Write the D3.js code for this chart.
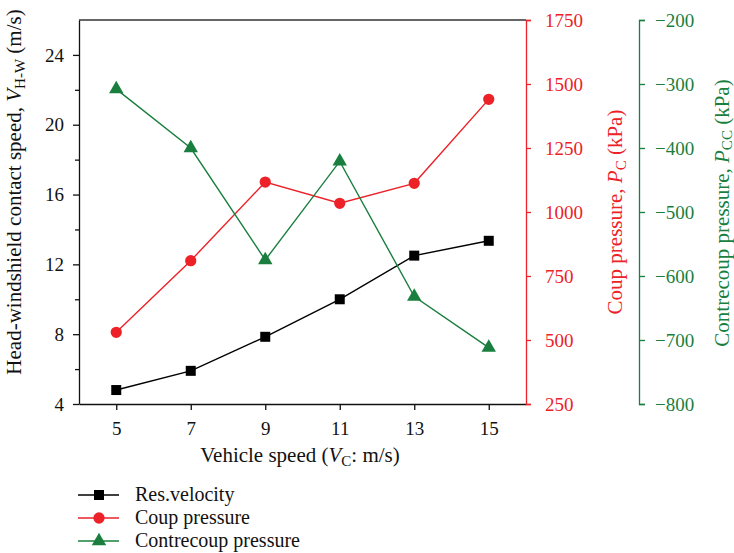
<!DOCTYPE html>
<html>
<head>
<meta charset="utf-8">
<script src="https://cdn.jsdelivr.net/npm/d3@7"></script>
<style>
  body { margin: 0; background: #fff; }
  svg { font-family: "Liberation Serif", "DejaVu Serif", serif; }
  .axis text { font-family: "Liberation Serif", serif; font-size: 19px; }
</style>
</head>
<body>
<svg></svg>
<script>
// DATA
let speeds = [5, 7, 9, 11, 13, 15];
let resVelocity = [4.8, 5.9, 7.85, 10.0, 12.5, 13.35];
let coupPressure = [530, 810, 1117, 1034, 1112, 1440];
let contrecoupPressure = [-308, -400, -575, -421, -632, -712];

let leftTicks = [4, 8, 12, 16, 20, 24];
let leftMinor = [6, 10, 14, 18, 22];
let coupTicks = [250, 500, 750, 1000, 1250, 1500, 1750];
let ccTicks = [-800, -700, -600, -500, -400, -300, -200];

let seriesNames = ["Res.velocity", "Coup pressure", "Contrecoup pressure"];

// PAGE SETUP
let red = "#ec2228", green = "#1a7f3e";
let margin = {top: 20, left: 79, right: 208, bottom: 149};
let width = 734 - margin.left - margin.right;
let height = 553 - margin.top - margin.bottom;

let svg = d3.select("svg").attr("width", 734).attr("height", 553)
  .append("g")
  .attr("transform", `translate(${margin.left},${margin.top})`);

// scales
let x = d3.scaleLinear().domain([4, 16]).range([0, width]);
let yLeft = d3.scaleLinear().domain([4, 26]).range([height, 0]);
let yCoup = d3.scaleLinear().domain([250, 1750]).range([height, 0]);
let yCC = d3.scaleLinear().domain([-800, -200]).range([height, 0]);

// top frame line
svg.append("line").attr("x1", 0).attr("x2", width).attr("y1", 0).attr("y2", 0)
  .attr("stroke", "#333").attr("stroke-width", 1.3);

// axes
let xAxis = svg.append("g").attr("class", "axis")
  .attr("transform", `translate(0,${height})`)
  .call(d3.axisBottom(x).tickValues(speeds).tickSize(6).tickPadding(12).tickSizeOuter(0));

let leftAxis = svg.append("g").attr("class", "axis")
  .call(d3.axisLeft(yLeft).tickValues(leftTicks).tickSize(6).tickPadding(9).tickSizeOuter(0));
svg.append("g")
  .call(d3.axisLeft(yLeft).tickValues(leftMinor).tickSize(4).tickFormat("").tickSizeOuter(0))
  .call(g => g.selectAll("line").attr("stroke", "#111").attr("stroke-width", 1.3))
  .select(".domain").remove();

let coupAxis = svg.append("g").attr("class", "axis")
  .attr("transform", `translate(${width},0)`)
  .call(d3.axisRight(yCoup).tickValues(coupTicks).tickFormat(d3.format("d"))
    .tickSize(5).tickPadding(14).tickSizeOuter(5));

let ccAxis = svg.append("g").attr("class", "axis")
  .attr("transform", `translate(${width + 113},0)`)
  .call(d3.axisRight(yCC).tickValues(ccTicks).tickSize(6).tickPadding(10).tickSizeOuter(6));

[xAxis, leftAxis].forEach(a => {
  a.selectAll("path, line").attr("stroke", "#111").attr("stroke-width", 1.3);
  a.selectAll("text").attr("fill", "#111");
});
coupAxis.selectAll("path, line").attr("stroke", red).attr("stroke-width", 1.3);
coupAxis.selectAll("text").attr("fill", red);
ccAxis.selectAll("path, line").attr("stroke", green).attr("stroke-width", 1.3);
ccAxis.selectAll("text").attr("fill", green);

// axis titles
let xTitle = svg.append("text")
  .attr("x", 221).attr("y", height + 58)
  .attr("text-anchor", "middle").attr("font-size", 21).attr("fill", "#111");
xTitle.append("tspan").text("Vehicle speed (");
xTitle.append("tspan").attr("font-style", "italic").text("V");
xTitle.append("tspan").attr("font-size", 15).attr("dy", 4).text("C");
xTitle.append("tspan").attr("dy", -4).text(": m/s)");

let yTitle = svg.append("text")
  .attr("transform", `translate(${-58},${172}) rotate(-90)`)
  .attr("text-anchor", "middle").attr("font-size", 21).attr("fill", "#111");
yTitle.append("tspan").text("Head-windshield contact speed, ");
yTitle.append("tspan").attr("font-style", "italic").text("V");
yTitle.append("tspan").attr("font-size", 15).attr("dy", 4).text("H-W");
yTitle.append("tspan").attr("dy", -4).text(" (m/s)");

let coupTitle = svg.append("text")
  .attr("transform", `translate(${width + 96},${192}) rotate(-90)`)
  .attr("text-anchor", "middle").attr("font-size", 21).attr("fill", red);
coupTitle.append("tspan").text("Coup pressure, ");
coupTitle.append("tspan").attr("font-style", "italic").text("P");
coupTitle.append("tspan").attr("font-size", 15).attr("dy", 4).text("C");
coupTitle.append("tspan").attr("dy", -4).text(" (kPa)");

let ccTitle = svg.append("text")
  .attr("transform", `translate(${width + 203},${193}) rotate(-90)`)
  .attr("text-anchor", "middle").attr("font-size", 21).attr("fill", green);
ccTitle.append("tspan").text("Contrecoup pressure, ");
ccTitle.append("tspan").attr("font-style", "italic").text("P");
ccTitle.append("tspan").attr("font-size", 15).attr("dy", 3).text("CC");
ccTitle.append("tspan").attr("dy", -3).text(" (kPa)");

// SERIES
let series = [
  {values: resVelocity, y: yLeft, color: "#000", symbol: d3.symbolSquare, size: 100},
  {values: coupPressure, y: yCoup, color: red, symbol: d3.symbolCircle, size: 100},
  {values: contrecoupPressure, y: yCC, color: green, symbol: d3.symbolTriangle, size: 90}
];

series.forEach(s => {
  let pts = speeds.map((v, i) => [x(v), s.y(s.values[i])]);
  svg.append("path")
    .attr("d", d3.line()(pts))
    .attr("fill", "none").attr("stroke", s.color).attr("stroke-width", 1.4);
  svg.selectAll(null).data(pts).enter().append("path")
    .attr("transform", d => `translate(${d[0]},${d[1]})`)
    .attr("d", d3.symbol().type(s.symbol).size(s.size))
    .attr("fill", s.color);
});

// LEGEND
let legend = svg.append("g").attr("transform", `translate(0,${height + 91})`);
series.forEach((s, i) => {
  let g = legend.append("g").attr("transform", `translate(0,${i * 23})`);
  g.append("line").attr("x1", -1).attr("x2", 40).attr("stroke", s.color).attr("stroke-width", 1.4);
  g.append("path").attr("transform", "translate(20,0)")
    .attr("d", d3.symbol().type(s.symbol).size(s.size)).attr("fill", s.color);
  g.append("text").attr("x", 56).attr("y", 6).attr("font-size", 20).attr("fill", "#111")
    .text(seriesNames[i]);
});
</script>
</body>
</html>
